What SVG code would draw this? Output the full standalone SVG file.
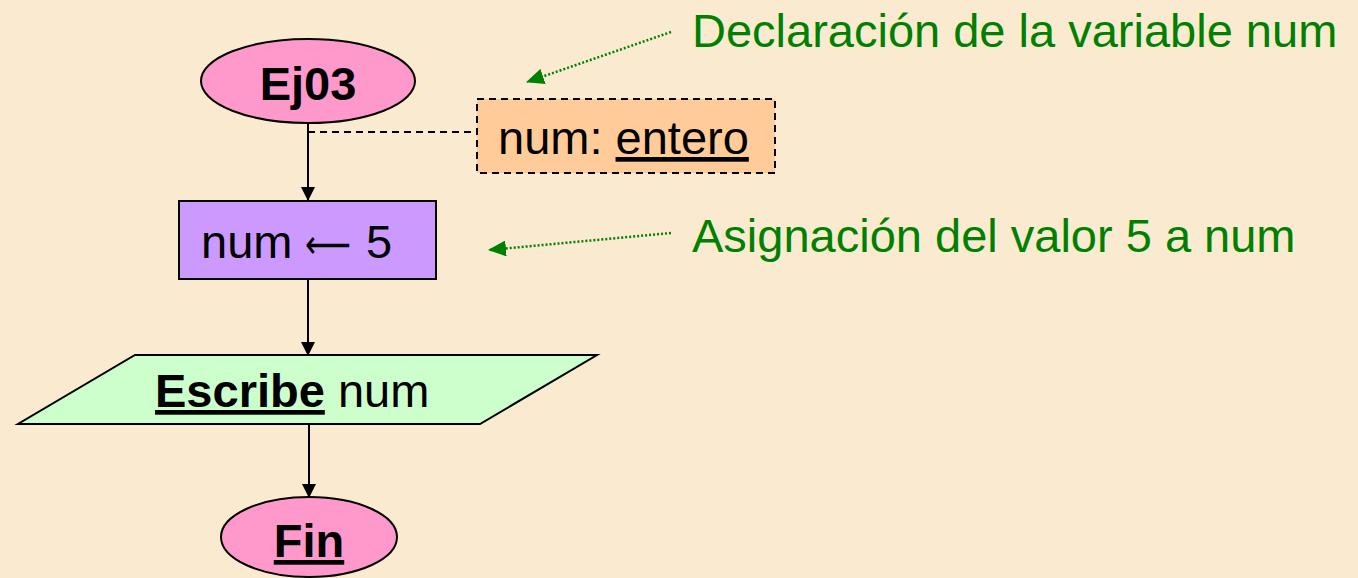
<svg xmlns="http://www.w3.org/2000/svg" width="1358" height="578" viewBox="0 0 1358 578">
<defs>
<style>
.t{font-family:"Liberation Sans",Arial,sans-serif;font-size:47px;fill:#000}
.b{font-weight:bold}
.g{fill:#008000}
.arr{font-family:"DejaVu Sans",sans-serif;font-size:40px;fill:#000}
.node{stroke:#000;stroke-width:2}
.flow{stroke:#000;stroke-width:2;fill:none}
.note{stroke:#008000;stroke-width:2.5;stroke-dasharray:2 2;fill:none}
.dash{stroke:#000;stroke-width:2;stroke-dasharray:7 5;fill:none}
</style>
<marker id="ah" markerWidth="14" markerHeight="14" refX="13" refY="7" orient="auto" markerUnits="userSpaceOnUse">
<path d="M0,0 L14,7 L0,14 Z" fill="#000"/>
</marker>
<marker id="gh" markerWidth="18" markerHeight="16" refX="17" refY="8" orient="auto" markerUnits="userSpaceOnUse">
<path d="M0,0 L18,8 L0,16 Z" fill="#008000"/>
</marker>
</defs>
<rect x="0" y="0" width="1358" height="578" fill="#FAEBD0"/>
<g id="connectors">
<line class="flow" x1="308" y1="123" x2="308" y2="200" marker-end="url(#ah)"/>
<line class="flow" x1="308" y1="279" x2="308" y2="355" marker-end="url(#ah)"/>
<line class="flow" x1="309" y1="424" x2="309" y2="497" marker-end="url(#ah)"/>
<line class="dash" x1="308" y1="132" x2="477" y2="132"/>
<line class="note" x1="671" y1="32" x2="527" y2="82" marker-end="url(#gh)"/>
<line class="note" x1="671" y1="233" x2="489" y2="250" marker-end="url(#gh)"/>
</g>
<g id="start">
<ellipse class="node" cx="308" cy="81" rx="107" ry="42" fill="#FF99CC"/>
<text class="t b" x="308" y="100" text-anchor="middle">Ej03</text>
</g>
<g id="decl">
<rect x="477" y="99" width="298" height="74" fill="#FFCC99"/>
<rect x="477" y="99" width="298" height="74" class="dash"/>
<text class="t" x="498" y="154">num: <tspan text-decoration="underline">entero</tspan></text>
</g>
<g id="assign">
<rect class="node" x="179" y="201" width="257" height="78" fill="#CC99FF"/>
<text class="t" x="201" y="258">num</text>
<text class="arr" x="305" y="258" textLength="46" lengthAdjust="spacingAndGlyphs">⟵</text>
<text class="t" x="366" y="258">5</text>
</g>
<g id="output">
<polygon class="node" points="135,355 597,355 480,424 18,424" fill="#CCFFCC"/>
<text class="t" x="155" y="407"><tspan class="b" text-decoration="underline">Escribe</tspan> num</text>
</g>
<g id="end">
<ellipse class="node" cx="309" cy="537" rx="88" ry="40" fill="#FF99CC"/>
<text class="t b" x="309" y="557" text-anchor="middle" text-decoration="underline">Fin</text>
</g>
<g id="note1">
<text class="t g" x="692" y="47">Declaración de la variable num</text>
</g>
<g id="note2">
<text class="t g" x="692" y="252">Asignación del valor 5 a num</text>
</g>
</svg>
